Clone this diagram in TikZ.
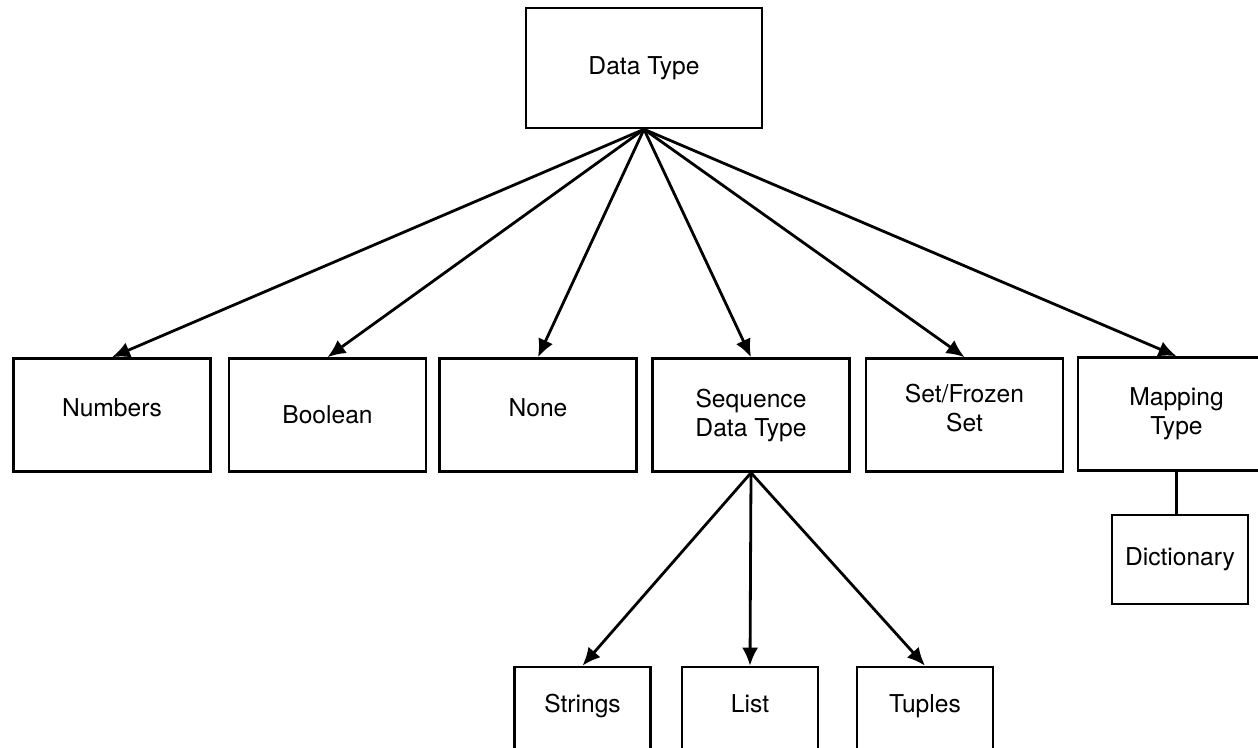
\documentclass[tikz,border=0pt]{standalone}
\usepackage{fontspec}
\setmainfont{TeX Gyre Heros}
\usepackage{tikz}
\usetikzlibrary{arrows.meta}
\tikzset{
  % a type box
  box/.style  = {draw, line width=1.3pt, align=center, inner sep=2pt,
                 font=\fontsize{12.3}{14.5}\selectfont,
                 minimum width=98.5pt, minimum height=56.5pt},
  % the root box
  root/.style = {box, minimum width=118pt, minimum height=60pt},
  % a box whose text sits a little high
  hi/.style   = {text depth=7.5pt},
  % a leaf box, text sits high
  leaf/.style = {box, minimum width=68pt, text depth=20pt},
  % the small box under the mapping type
  sub/.style  = {box, minimum width=68pt, minimum height=44.5pt},
  % an arrow
  arr/.style  = {-{Latex[length=9pt,width=8pt]}, line width=1.4pt},
  % a plain link
  link/.style = {line width=1.3pt},
}

\begin{document}
\begin{tikzpicture}[x=0.5pt, y=-0.5pt]
  \useasboundingbox (0,0) rectangle (1258,748);
  % --- root ---
  \node[root] (dt) at (644,68) {Data Type};
  % --- first level ---
  \node[box,hi] (num)  at ( 112.0,415) {Numbers};
  \node[box]    (bool) at ( 327.5,415) {Boolean};
  \node[box,hi] (none) at ( 538.0,415) {None};
  \node[box]    (seq)  at ( 751.0,415) {Sequence\\Data Type};
  \node[box,hi] (set)  at ( 964.5,415) {Set/Frozen\\Set};
  \node[box]    (map)  at (1176.5,414) {Mapping\\Type};
  \foreach \k in {num,bool,none,seq,set,map}
    \draw[arr] (dt.south) -- (\k.north);
  % --- sequences ---
  \node[leaf] (str) at (582.5,723.5) {Strings};
  \node[leaf] (lst) at (750.0,723.5) {List};
  \node[leaf] (tup) at (925.0,723.5) {Tuples};
  \foreach \k in {str,lst,tup}
    \draw[arr] (seq.south) -- (\k.north);
  % --- mapping ---
  \node[sub] (dict) at (1180,559.5) {Dictionary};
  \draw[link] (map.south) -- (map.south |- dict.north);
\end{tikzpicture}
\end{document}
